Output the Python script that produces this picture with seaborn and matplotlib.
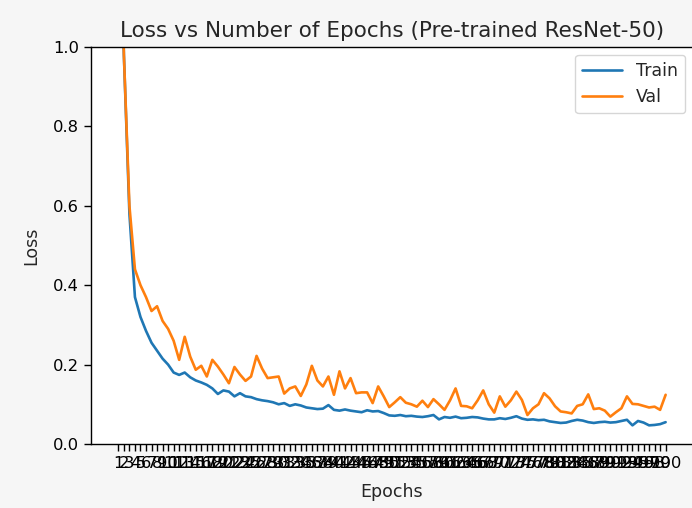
import matplotlib
matplotlib.use("Agg")
import matplotlib.pyplot as plt
import numpy as np
import pandas as pd
import seaborn as sns

epochs = list(range(1, 101))

train_loss = [
    1.50, 0.98, 0.58, 0.37, 0.32, 0.285, 0.255, 0.235, 0.215, 0.20,
    0.18, 0.174, 0.18, 0.168, 0.16, 0.155, 0.149, 0.14, 0.126, 0.135,
    0.132, 0.12, 0.128, 0.12, 0.118, 0.113, 0.11, 0.108, 0.105, 0.10,
    0.103, 0.096, 0.10, 0.097, 0.092, 0.09, 0.088, 0.089, 0.098, 0.086,
    0.084, 0.087, 0.084, 0.082, 0.08, 0.085, 0.082, 0.083, 0.078, 0.072,
    0.071, 0.073, 0.07, 0.071, 0.069, 0.068, 0.07, 0.073, 0.062, 0.068,
    0.066, 0.069, 0.065, 0.066, 0.068, 0.067, 0.064, 0.062, 0.062, 0.065,
    0.063, 0.066, 0.07, 0.064, 0.061, 0.062, 0.06, 0.061, 0.057, 0.055,
    0.053, 0.054, 0.058, 0.061, 0.059, 0.055, 0.053, 0.055, 0.056, 0.054,
    0.055, 0.058, 0.061, 0.047, 0.058, 0.054, 0.047, 0.048, 0.05, 0.055,
]

val_loss = [
    1.70, 0.98, 0.60, 0.44, 0.40, 0.37, 0.335, 0.347, 0.31, 0.29,
    0.26, 0.212, 0.27, 0.22, 0.187, 0.197, 0.17, 0.212, 0.195, 0.175,
    0.153, 0.194, 0.175, 0.159, 0.17, 0.222, 0.19, 0.166, 0.168, 0.17,
    0.127, 0.14, 0.145, 0.121, 0.15, 0.197, 0.16, 0.145, 0.17, 0.124,
    0.183, 0.14, 0.166, 0.128, 0.13, 0.13, 0.103, 0.145, 0.12, 0.093,
    0.105, 0.118, 0.104, 0.10, 0.094, 0.109, 0.093, 0.113, 0.10, 0.086,
    0.11, 0.14, 0.096, 0.095, 0.09, 0.11, 0.135, 0.10, 0.079, 0.12,
    0.094, 0.11, 0.132, 0.111, 0.073, 0.09, 0.10, 0.128, 0.115, 0.095,
    0.082, 0.08, 0.077, 0.096, 0.10, 0.125, 0.088, 0.09, 0.084, 0.069,
    0.08, 0.09, 0.12, 0.101, 0.10, 0.096, 0.092, 0.094, 0.086, 0.124,
]

df = pd.DataFrame({
    "Epochs": epochs * 2,
    "Loss": train_loss + val_loss,
    "Split": ["Train"] * len(epochs) + ["Val"] * len(epochs),
})

sns.set_style("ticks")
plt.rcParams["font.family"] = ["DejaVu Sans"]

fig = plt.figure(figsize=(6.92, 5.08), dpi=100, facecolor="#f6f6f6")
ax = fig.add_axes([91 / 692, 64 / 508, 602 / 692, 397 / 508])
ax.set_facecolor("white")

sns.lineplot(data=df, x="Epochs", y="Loss", hue="Split",
             palette=["#1f77b4", "#ff7f0e"], linewidth=1.9, ax=ax)

ax.set_ylim(0, 1.0)
ax.set_xticks(epochs)
ax.set_xticklabels([str(e) for e in epochs])
ax.tick_params(axis="both", labelsize=11.8, length=5, width=1.0, colors="black")
ax.set_xlabel("Epochs", fontsize=12.5, labelpad=9)
ax.set_ylabel("Loss", fontsize=12.5, labelpad=9)
ax.set_title("Loss vs Number of Epochs (Pre-trained ResNet-50)", fontsize=15.5, pad=7)
for s in ax.spines.values():
    s.set_color("black")
    s.set_linewidth(1.0)

leg = ax.legend(title=None, fontsize=12.5, loc="upper right", frameon=True,
                borderaxespad=0.45, handlelength=2.3)
leg.get_frame().set_edgecolor("#cccccc")

fig.savefig("out.png", dpi=100, facecolor=fig.get_facecolor())
